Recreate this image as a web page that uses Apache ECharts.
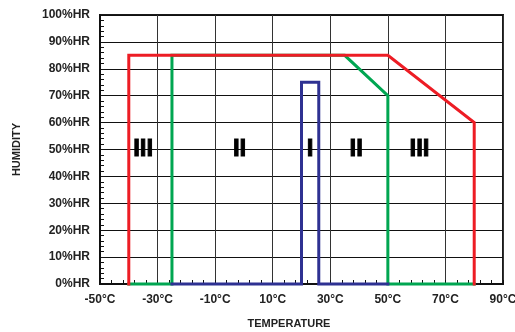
<!DOCTYPE html>
<html>
<head>
<meta charset="utf-8">
<style>
  html, body { margin: 0; padding: 0; background: #fff; }
  #chart { width: 515px; height: 332px; }
</style>
<script src="https://cdn.jsdelivr.net/npm/echarts@6/dist/echarts.min.js"></script>
</head>
<body>
<div id="chart"></div>
<script>
// Operating envelopes: temperature (°C) vs relative humidity (%HR)
const redTemp   = [-40, -40, 50, 80, 80];
const redHum    = [0, 85, 85, 60, 0];
const greenTemp = [-40, -25, -25, 35, 50, 50, 80];
const greenHum  = [0, 0, 85, 85, 70, 0, 0];
const blueTemp  = [-25, 20, 20, 26, 26, 50];
const blueHum   = [0, 0, 75, 75, 0, 0];

// Zone class labels
const zoneNames = ['III', 'II', 'I', 'II', 'III'];
const zoneTemp  = [-35, -1.5, 23, 39, 61];
const zoneHum   = [50, 50, 50, 50, 50];

const FONT = '"Liberation Sans", Arial, sans-serif';
const zip = (xs, ys) => xs.map((x, i) => [x, ys[i]]);

function envelope(name, xs, ys, color, z) {
  return {
    name, type: 'line', data: zip(xs, ys), symbol: 'none', z,
    clip: false, silent: true,
    lineStyle: { color, width: 3, join: 'miter', cap: 'square' }
  };
}

const chart = echarts.init(document.getElementById('chart'), null, { renderer: 'canvas' });
chart.setOption({
  animation: false,
  backgroundColor: '#fff',
  grid: {
    left: 100, right: 12, top: 15, bottom: 48,
    outerBoundsMode: 'none', containLabel: false,
    show: true, borderColor: '#1a1a1a', borderWidth: 2, backgroundColor: 'transparent'
  },
  xAxis: {
    type: 'value', min: -50, max: 90, interval: 20,
    name: 'TEMPERATURE', nameLocation: 'middle', nameGap: 34,
    nameTextStyle: { fontFamily: FONT, fontWeight: 'bold', fontSize: 11, color: '#222', padding: [0, 25, 0, 0] },
    axisLine: { show: true, onZero: false, lineStyle: { color: '#111', width: 2 } },
    axisTick: { show: true, inside: true, length: 4, lineStyle: { color: '#111' } },
    minorTick: { show: true, splitNumber: 5, length: 4, lineStyle: { color: '#111', width: 1 } },
    axisLabel: {
      fontFamily: FONT, fontWeight: 'bold', fontSize: 12, color: '#222', margin: 10,
      formatter: v => v + '°C'
    },
    splitLine: { show: true, lineStyle: { color: '#333', width: 1 } }
  },
  yAxis: {
    type: 'value', min: 0, max: 100, interval: 10,
    name: 'HUMIDITY', nameLocation: 'middle', nameGap: 78,
    nameTextStyle: { fontFamily: FONT, fontWeight: 'bold', fontSize: 11, color: '#222' },
    axisLine: { show: true, onZero: false, lineStyle: { color: '#111', width: 2 } },
    axisTick: { show: true, inside: true, length: 4, lineStyle: { color: '#111' } },
    minorTick: { show: true, splitNumber: 5, length: 4, lineStyle: { color: '#111', width: 1 } },
    axisLabel: {
      fontFamily: FONT, fontWeight: 'bold', fontSize: 12, color: '#222', margin: 10,
      formatter: v => v + '%HR'
    },
    splitLine: { show: true, lineStyle: { color: '#111', width: 1 } }
  },
  series: [
    envelope('green', greenTemp, greenHum, '#00a651', 3),
    envelope('blue', blueTemp, blueHum, '#2e3192', 4),
    envelope('red', redTemp, redHum, '#ed1c24', 5),
    {
      name: 'zones', type: 'scatter', symbolSize: 0, z: 6, silent: true,
      itemStyle: { color: '#000', opacity: 1 },
      data: zoneTemp.map((t, i) => ({ value: [t, zoneHum[i]], name: zoneNames[i] })),
      label: {
        show: true, position: 'inside', formatter: p => p.name,
        fontFamily: FONT, fontWeight: 'bold', fontSize: 24, color: '#000',
        textBorderColor: '#000', textBorderWidth: 1
      }
    }
  ]
});
</script>
</body>
</html>
